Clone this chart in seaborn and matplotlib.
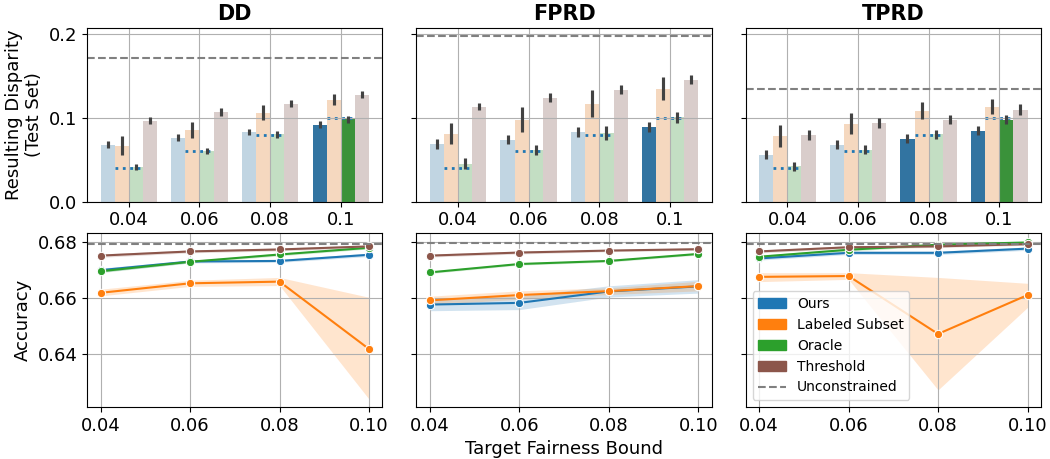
import numpy as np
import pandas as pd
import matplotlib
matplotlib.use("Agg")
import matplotlib.pyplot as plt
import seaborn as sns
from matplotlib.patches import Patch
from matplotlib.lines import Line2D

# ---------------- data ----------------
metrics = ["DD", "FPRD", "TPRD"]
methods = ["Ours", "Labeled Subset", "Oracle", "Threshold"]
bounds = [0.04, 0.06, 0.08, 0.10]
bound_labels = ["0.04", "0.06", "0.08", "0.1"]
colors = ["#1f77b4", "#ff7f0e", "#2ca02c", "#8c564b"]

# resulting disparity (test set): mean per method over bounds
dd_disp = {"Ours": [0.068, 0.0765, 0.0837, 0.092],
           "Labeled Subset": [0.0669, 0.086, 0.1064, 0.1219],
           "Oracle": [0.0414, 0.0605, 0.0805, 0.0984],
           "Threshold": [0.0968, 0.1076, 0.1171, 0.1279]}
fprd_disp = {"Ours": [0.0693, 0.0741, 0.0837, 0.0896],
             "Labeled Subset": [0.0813, 0.098, 0.1171, 0.135],
             "Oracle": [0.0454, 0.0618, 0.0821, 0.1005],
             "Threshold": [0.1135, 0.1243, 0.1339, 0.1458]}
tprd_disp = {"Ours": [0.0562, 0.0681, 0.0753, 0.0849],
             "Labeled Subset": [0.0781, 0.0932, 0.1088, 0.1135],
             "Oracle": [0.0422, 0.0618, 0.0805, 0.098],
             "Threshold": [0.0793, 0.0944, 0.098, 0.11]}
# error-bar half widths
dd_disp_err = {"Ours": [0.004, 0.004, 0.0036, 0.004],
               "Labeled Subset": [0.011, 0.0096, 0.009, 0.0064],
               "Oracle": [0.004, 0.0036, 0.004, 0.0044],
               "Threshold": [0.0045, 0.0048, 0.004, 0.0044]}
fprd_disp_err = {"Ours": [0.006, 0.005, 0.006, 0.006],
                 "Labeled Subset": [0.013, 0.015, 0.016, 0.014],
                 "Oracle": [0.0065, 0.006, 0.008, 0.007],
                 "Threshold": [0.0045, 0.005, 0.005, 0.005]}
tprd_disp_err = {"Ours": [0.005, 0.005, 0.0054, 0.005],
                 "Labeled Subset": [0.0133, 0.013, 0.01, 0.009],
                 "Oracle": [0.0054, 0.0054, 0.0056, 0.0056],
                 "Threshold": [0.006, 0.006, 0.0054, 0.0064]}
unconstrained_disp = [0.1717, 0.1976, 0.135]

# accuracy: mean per method over bounds
dd_acc = {"Ours": [0.6701, 0.6732, 0.6734, 0.6756],
          "Labeled Subset": [0.6620, 0.6654, 0.6660, 0.6419],
          "Oracle": [0.6697, 0.6731, 0.6757, 0.6781],
          "Threshold": [0.6753, 0.6768, 0.6775, 0.6786]}
fprd_acc = {"Ours": [0.6578, 0.6584, 0.6625, 0.6643],
            "Labeled Subset": [0.6593, 0.6612, 0.6626, 0.6644],
            "Oracle": [0.6693, 0.6723, 0.6734, 0.6759],
            "Threshold": [0.6753, 0.6764, 0.6771, 0.6776]}
tprd_acc = {"Ours": [0.6743, 0.6763, 0.6763, 0.6778],
            "Labeled Subset": [0.6677, 0.6680, 0.6473, 0.6612],
            "Oracle": [0.6749, 0.6774, 0.6792, 0.6800],
            "Threshold": [0.6768, 0.6783, 0.6786, 0.6794]}
# confidence band lower / upper
dd_acc_lo = {"Ours": [0.6694, 0.6727, 0.6729, 0.6750],
             "Labeled Subset": [0.6609, 0.6643, 0.6646, 0.6240],
             "Oracle": [0.6692, 0.6727, 0.6752, 0.6777],
             "Threshold": [0.6747, 0.6763, 0.6770, 0.6781]}
dd_acc_hi = {"Ours": [0.6708, 0.6737, 0.6739, 0.6762],
             "Labeled Subset": [0.6633, 0.6665, 0.6675, 0.6604],
             "Oracle": [0.6702, 0.6735, 0.6762, 0.6785],
             "Threshold": [0.6759, 0.6773, 0.6780, 0.6791]}
fprd_acc_lo = {"Ours": [0.6556, 0.6560, 0.6605, 0.6619],
               "Labeled Subset": [0.6578, 0.6597, 0.6614, 0.6627],
               "Oracle": [0.6689, 0.6719, 0.6730, 0.6755],
               "Threshold": [0.6748, 0.6759, 0.6767, 0.6772]}
fprd_acc_hi = {"Ours": [0.6600, 0.6608, 0.6645, 0.6667],
               "Labeled Subset": [0.6608, 0.6627, 0.6638, 0.6661],
               "Oracle": [0.6697, 0.6727, 0.6738, 0.6763],
               "Threshold": [0.6758, 0.6769, 0.6775, 0.6780]}
tprd_acc_lo = {"Ours": [0.6737, 0.6757, 0.6757, 0.6772],
               "Labeled Subset": [0.6660, 0.6668, 0.6273, 0.6568],
               "Oracle": [0.6744, 0.6769, 0.6788, 0.6796],
               "Threshold": [0.6763, 0.6778, 0.6782, 0.6790]}
tprd_acc_hi = {"Ours": [0.6749, 0.6769, 0.6769, 0.6784],
               "Labeled Subset": [0.6692, 0.6692, 0.6675, 0.6654],
               "Oracle": [0.6754, 0.6779, 0.6796, 0.6804],
               "Threshold": [0.6773, 0.6788, 0.6790, 0.6798]}
unconstrained_acc = [0.6795, 0.6798, 0.6795]

disp_all = [dd_disp, fprd_disp, tprd_disp]
disp_err_all = [dd_disp_err, fprd_disp_err, tprd_disp_err]
acc_all = [dd_acc, fprd_acc, tprd_acc]
acc_lo_all = [dd_acc_lo, fprd_acc_lo, tprd_acc_lo]
acc_hi_all = [dd_acc_hi, fprd_acc_hi, tprd_acc_hi]

# ---------------- figure ----------------
plt.rcParams["font.family"] = ["DejaVu Sans"]
fig, axes = plt.subplots(2, 3, figsize=(10.5, 4.59), dpi=100)
fig.subplots_adjust(left=0.083, right=0.9914, top=0.939, bottom=0.1133,
                    hspace=0.184, wspace=0.115)
for ax in axes[0, 1:]:
    ax.sharey(axes[0, 0])
for ax in axes[1, 1:]:
    ax.sharey(axes[1, 0])

FS = 13
for k, metric in enumerate(metrics):
    # ---- top: disparity bars ----
    ax = axes[0, k]
    rows = []
    for m in methods:
        for b, v in zip(bound_labels, disp_all[k][m]):
            rows.append({"bound": b, "method": m, "disp": v})
    df = pd.DataFrame(rows)
    sns.barplot(data=df, x="bound", y="disp", hue="method", order=bound_labels,
                hue_order=methods, palette=colors, errorbar=None, ax=ax,
                linewidth=0, legend=False)
    for mi, (m, cont) in enumerate(zip(methods, ax.containers)):
        xs, ys = [], []
        for bi, bar in enumerate(cont.patches):
            val = disp_all[k][m][bi]
            bar.set_alpha(1.0 if val <= bounds[bi] else 0.3)
            xs.append(bar.get_x() + bar.get_width() / 2)
            ys.append(val)
        ax.errorbar(xs, ys, yerr=disp_err_all[k][m], fmt="none",
                    ecolor=".26", elinewidth=2.25, capsize=0, zorder=3)
    for bi, b in enumerate(bounds):
        ax.hlines(b, bi - 0.2, bi + 0.2, colors="#1f77b4", linestyles=":",
                  linewidth=2, zorder=1.2)
    ax.axhline(unconstrained_disp[k], color="gray", linestyle="--", linewidth=1.5)
    ax.grid(True)
    ax.set_title(metric, fontsize=15, fontweight="bold")
    ax.set_xlabel("")
    ax.tick_params(labelsize=FS)
    if k == 0:
        ax.set_ylabel("Resulting Disparity\n(Test Set)", fontsize=FS)
    else:
        ax.set_ylabel("")
        ax.tick_params(labelleft=False)

    # ---- bottom: accuracy lines ----
    ax = axes[1, k]
    rows = []
    for m in methods:
        for b, v in zip(bounds, acc_all[k][m]):
            rows.append({"bound": b, "method": m, "acc": v})
    df = pd.DataFrame(rows)
    for mi, m in enumerate(methods):
        ax.fill_between(bounds, acc_lo_all[k][m], acc_hi_all[k][m],
                        color=colors[mi], alpha=0.2, linewidth=0)
    sns.lineplot(data=df, x="bound", y="acc", hue="method", hue_order=methods,
                 palette=colors, marker="o", markersize=6, errorbar=None,
                 legend=False, ax=ax)
    ax.axhline(unconstrained_acc[k], color="gray", linestyle="--", linewidth=1.5)
    ax.grid(True)
    ax.set_xticks(bounds)
    ax.tick_params(labelsize=FS)
    ax.set_xlabel("Target Fairness Bound" if k == 1 else "", fontsize=FS)
    if k == 0:
        ax.set_ylabel("Accuracy", fontsize=FS)
        ax.set_yticks([0.64, 0.66, 0.68])
    else:
        ax.set_ylabel("")
        ax.tick_params(labelleft=False)

handles = [Patch(color=c, label=m) for c, m in zip(colors, methods)]
handles.append(Line2D([0], [0], color="gray", linestyle="--", linewidth=1.5,
                      label="Unconstrained"))
axes[1, 2].legend(handles=handles, loc="lower left", fontsize=10)

fig.savefig("out.png", dpi=100)
